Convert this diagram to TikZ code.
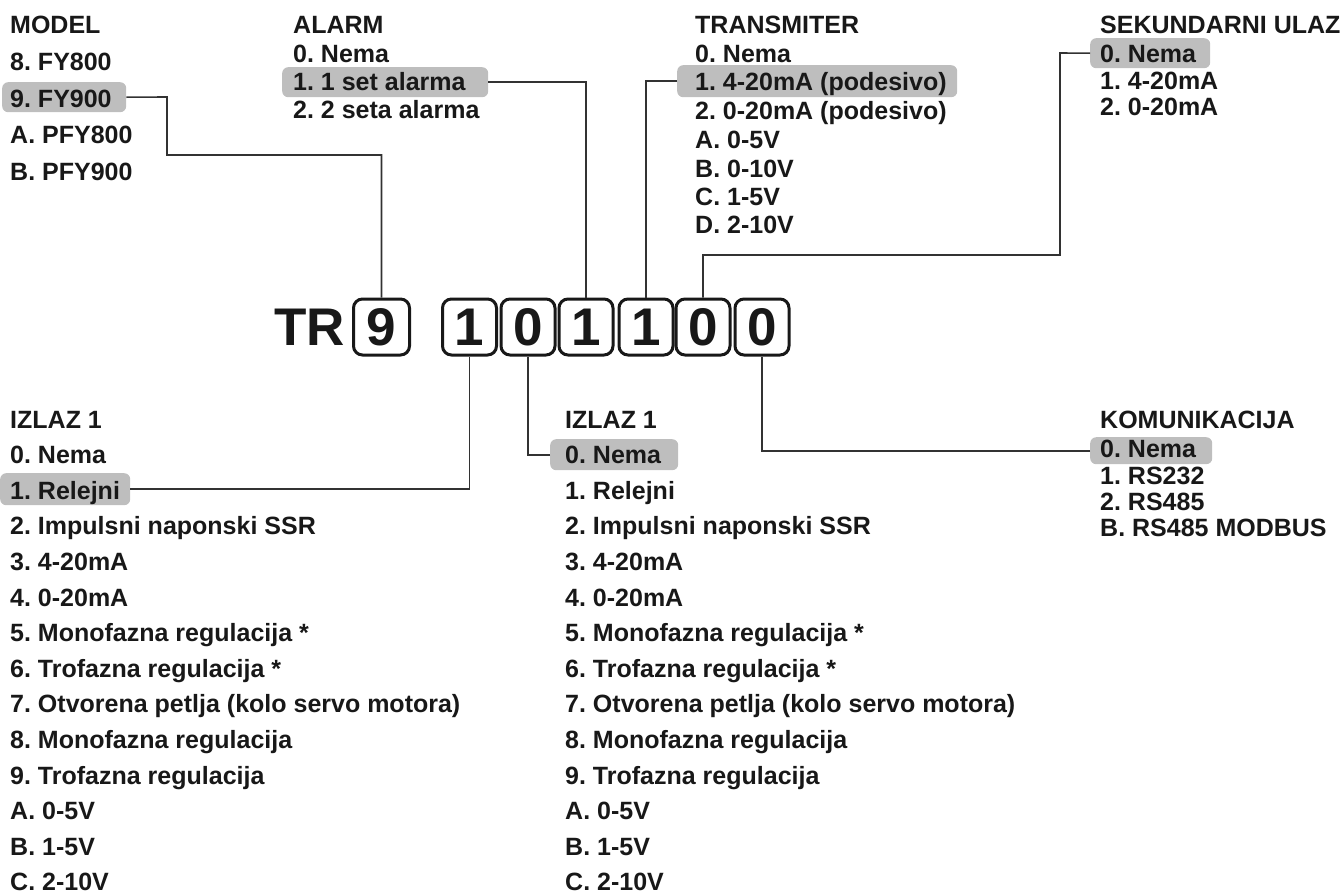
\documentclass[tikz,border=0pt]{standalone}
\usepackage{fontspec}
\setmainfont{Liberation Sans}
\frenchspacing
\definecolor{hlgray}{RGB}{190,190,190}
\definecolor{ink}{RGB}{24,24,24}
\definecolor{wire}{RGB}{50,50,50}
\begin{document}
\begin{tikzpicture}[x=1pt,y=-1pt,
  txt/.style={anchor=base west, inner sep=0pt, font=\fontsize{25}{30}\selectfont\bfseries, text=ink},
  hlbox/.style={fill=hlgray, rounded corners=6pt, draw=none, inner sep=0pt, anchor=north west},
  digitbox/.style={draw=ink, line width=3pt, rounded corners=9pt, minimum width=54pt, minimum height=56pt, inner sep=0pt, font=\fontsize{53}{53}\selectfont\bfseries, text=ink},
  conn/.style={draw=wire, line width=1.6pt}]
\useasboundingbox (0,0) rectangle (1343,894);

% highlight bars
\node[hlbox, minimum width=124pt, minimum height=30pt] (hm) at (2,82) {};
\node[hlbox, minimum width=206pt, minimum height=30pt] (ha) at (282,67) {};
\node[hlbox, minimum width=280pt, minimum height=32pt] (ht) at (677,65) {};
\node[hlbox, minimum width=120pt, minimum height=30pt] (hs) at (1090,38) {};
\node[hlbox, minimum width=122pt, minimum height=27pt] (hk) at (1090,437) {};
\node[hlbox, minimum width=130pt, minimum height=32pt] (hl1) at (0,473) {};
\node[hlbox, minimum width=128pt, minimum height=31pt] (hl2) at (550,439) {};

% MODEL
\node[txt] (m0) at (10,33) {MODEL};
\node[txt] (m1) at (10,70) {8. FY800};
\node[txt] (m2) at (10,107) {9. FY900};
\node[txt] (m3) at (10,143) {A. PFY800};
\node[txt] (m4) at (10,180) {B. PFY900};

% ALARM
\node[txt] (a0) at (293,33) {ALARM};
\node[txt] (a1) at (293,62) {0. Nema};
\node[txt] (a2) at (293,90) {1. 1 set alarma};
\node[txt] (a3) at (293,118) {2. 2 seta alarma};

% TRANSMITER
\node[txt] (t0) at (695,33) {TRANSMITER};
\node[txt] (t1) at (695,62) {0. Nema};
\node[txt] (t2) at (695,90) {1. 4-20mA (podesivo)};
\node[txt] (t3) at (695,119) {2. 0-20mA (podesivo)};
\node[txt] (t4) at (695,148) {A. 0-5V};
\node[txt] (t5) at (695,177) {B. 0-10V};
\node[txt] (t6) at (695,205) {C. 1-5V};
\node[txt] (t7) at (695,233) {D. 2-10V};

% SEKUNDARNI ULAZ
\node[txt] (s0) at (1100,33) {SEKUNDARNI ULAZ};
\node[txt] (s1) at (1100,62) {0. Nema};
\node[txt] (s2) at (1100,89) {1. 4-20mA};
\node[txt] (s3) at (1100,115) {2. 0-20mA};

% KOMUNIKACIJA
\node[txt] (k0) at (1100,428) {KOMUNIKACIJA};
\node[txt] (k1) at (1100,457) {0. Nema};
\node[txt] (k2) at (1100,484) {1. RS232};
\node[txt] (k3) at (1100,510) {2. RS485};
\node[txt] (k4) at (1100,536) {B. RS485 MODBUS};

% IZLAZ lists
\foreach \t [count=\i] in {IZLAZ 1,0. Nema,1. Relejni,2. Impulsni naponski SSR,3. 4-20mA,4. 0-20mA,5. Monofazna regulacija *,6. Trofazna regulacija *,7. Otvorena petlja (kolo servo motora),8. Monofazna regulacija,9. Trofazna regulacija,A. 0-5V,B. 1-5V,C. 2-10V}{
  \node[txt] (l\i) at (10,{428+35.6*(\i-1)}) {\t};
  \node[txt] (r\i) at (565,{428+35.6*(\i-1)}) {\t};
}

% code
\node[anchor=base west, inner sep=0pt, font=\fontsize{53}{53}\selectfont\bfseries, text=ink] (tr) at (274,345) {TR};
\node[digitbox, minimum width=56pt] (b9) at (381.5,327) {9};
\node[digitbox] (d1) at (469.5,327) {1};
\node[digitbox] (d2) at (528,327) {0};
\node[digitbox] (d3) at (586,327) {1};
\node[digitbox] (d4) at (646,327) {1};
\node[digitbox] (d5) at (703,327) {0};
\node[digitbox] (d6) at (762,327) {0};

% connectors
\draw[conn] (hm.east) -- (167,97) -- (167,155) -| (b9.north);
\draw[conn] (ha.east) -| (d3.north);
\draw[conn] (ht.west) -| (d4.north);
\draw[conn] (hs.west) -- (1060,53) -- (1060,255) -| (d5.north);
\draw[conn] (hk.west) -| (d6.south);
\draw[conn] (hl1.east) -| (d1.south);
\draw[conn] (hl2.west) -| (d2.south);
\end{tikzpicture}
\end{document}
